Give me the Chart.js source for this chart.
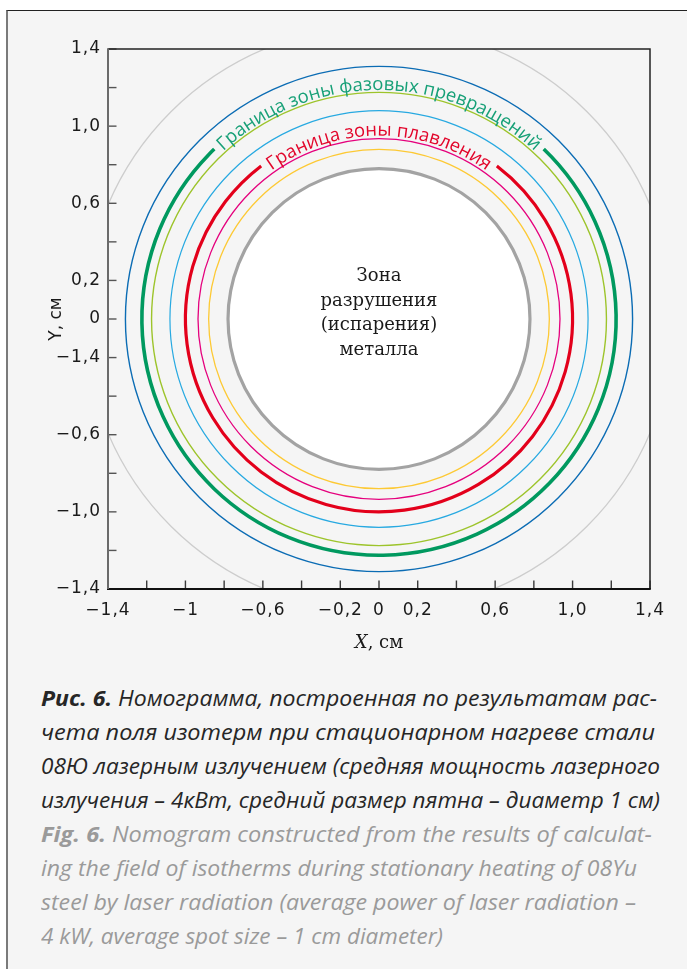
<!DOCTYPE html>
<html>
<head>
<meta charset="utf-8">
<script src="https://cdn.jsdelivr.net/npm/chart.js@4/dist/chart.umd.min.js"></script>
<style>
  html, body { margin: 0; padding: 0; background: #fff; }
  body { width: 687px; height: 969px; position: relative; overflow: hidden; }
  #panel { position: absolute; left: 6px; top: 10px; right: 0; bottom: 0; background: #f5f5f5;
           border-top: 1.5px solid #222; border-left: 2px solid #7a7a7a; }
  #wrap { position: absolute; left: 0; top: 0; width: 687px; height: 670px; }
  #caption { position: absolute; left: 41px; top: 680px; font-family: 'Open Sans', sans-serif;
             font-style: italic; font-size: 22px; }
  .ln { height: 34px; line-height: 34px; white-space: nowrap; }
  .ln .t { display: inline-block; transform-origin: 0 50%; }
  .ru { color: #262626; }
  .en { color: #9a9a9a; }
  b { font-weight: 700; }
</style>
</head>
<body>
<div id="panel"></div>
<div id="wrap"><canvas id="nomogram" width="687" height="670"></canvas></div>
<div id="caption">
  <div class="ln ru" data-w="616"><span class="t"><b>Рис. 6.</b> Номограмма, построенная по результатам рас-</span></div>
  <div class="ln ru" data-w="614"><span class="t">чета поля изотерм при стационарном нагреве стали</span></div>
  <div class="ln ru" data-w="619"><span class="t">08Ю лазерным излучением (средняя мощность лазерного</span></div>
  <div class="ln ru" data-w="619"><span class="t">излучения – 4кВт, средний размер пятна – диаметр 1 см)</span></div>
  <div class="ln en" data-w="611"><span class="t"><b>Fig. 6.</b> Nomogram constructed from the results of calculat-</span></div>
  <div class="ln en" data-w="596"><span class="t">ing the field of isotherms during stationary heating of 08Yu</span></div>
  <div class="ln en" data-w="595"><span class="t">steel by laser radiation (average power of laser radiation –</span></div>
  <div class="ln en" data-w="402"><span class="t">4 kW, average spot size – 1 cm diameter)</span></div>
</div>
<script>
// Axis ticks (cm) and their printed labels
const xTickValues = [-1.4, -1.2, -1.0, -0.8, -0.6, -0.4, -0.2, 0, 0.2, 0.4, 0.6, 0.8, 1.0, 1.2, 1.4];
const xTickLabels = ['−1,4', '', '−1', '', '−0,6', '', '−0,2', '0', '0,2', '', '0,6', '', '1,0', '', '1,4'];
const yTickValues = [1.4, 1.2, 1.0, 0.8, 0.6, 0.4, 0.2, 0, -0.2, -0.4, -0.6, -0.8, -1.0, -1.2, -1.4];
const yTickLabels = ['1,4', '', '1,0', '', '0,6', '', '0,2', '0', '−1,4', '', '−0,6', '', '−1,0', '', '−1,4'];

// Isotherm radii (cm), outermost first
const isothermRadii = [1.52, 1.31, 1.225, 1.175, 1.08, 1.0, 0.935, 0.88, 0.78];

// Boundary isotherms and their names
const boundaryNames = ['Граница зоны фазовых превращений', 'Граница зоны плавления'];
const boundaryRadii = [1.225, 1.0];

// Destruction (evaporation) zone
const coreRadius = 0.78;
const coreLabel = ['Зона', 'разрушения', '(испарения)', 'металла'];

// Styling
const isothermColors = ['#cdcdcd', '#0b6cb4', '#00995f', '#9dc42b', '#27a9e1', '#e3001b', '#e5007d', '#fdc934', '#a3a3a3'];
const isothermWidths = [1.3, 1.4, 3.6, 1.4, 1.2, 3.2, 1.3, 1.3, 3.2];
const boundaryGapDeg = [[46, 134], [52.5, 127.5]];
const boundaryTextRadius = [1.183, 0.947];
const boundaryTextColors = ['#17a077', '#e2062b'];
const boundaryFont = '18.5px "Open Sans"';

function arcText(ctx, text, cx, cy, R, centerDeg) {
  const chars = [...text];
  const widths = chars.map(ch => ctx.measureText(ch).width);
  const total = widths.reduce((s, w) => s + w, 0);
  let theta = centerDeg * Math.PI / 180 + total / (2 * R);
  chars.forEach((ch, i) => {
    const th = theta - widths[i] / (2 * R);
    ctx.save();
    ctx.translate(cx + R * Math.cos(th), cy - R * Math.sin(th));
    ctx.rotate(Math.PI / 2 - th);
    ctx.fillText(ch, 0, 0);
    ctx.restore();
    theta -= widths[i] / R;
  });
}

const isothermPlugin = {
  id: 'isotherms',
  beforeDraw(chart) {
    chart.ctx.letterSpacing = '1px';
  },
  afterDraw(chart) {
    const { ctx, chartArea: a, scales: { x, y } } = chart;
    ctx.save();
    ctx.letterSpacing = '0px';
    const cx = x.getPixelForValue(0), cy = y.getPixelForValue(0);
    const rx = r => x.getPixelForValue(r) - cx;
    const ry = r => cy - y.getPixelForValue(r);

    ctx.save();
    ctx.beginPath();
    ctx.rect(a.left, a.top, a.right - a.left, a.bottom - a.top);
    ctx.clip();

    // white core
    ctx.beginPath();
    ctx.ellipse(cx, cy, rx(coreRadius), ry(coreRadius), 0, 0, Math.PI * 2);
    ctx.fillStyle = '#ffffff';
    ctx.fill();

    // isotherms
    isothermRadii.forEach((r, i) => {
      const b = boundaryRadii.indexOf(r);
      let start = 0, end = Math.PI * 2;
      if (b >= 0) {
        start = -boundaryGapDeg[b][0] * Math.PI / 180;
        end = (360 - boundaryGapDeg[b][1]) * Math.PI / 180;
      }
      ctx.beginPath();
      ctx.ellipse(cx, cy, rx(r), ry(r), 0, start, end);
      ctx.strokeStyle = isothermColors[i];
      ctx.lineWidth = isothermWidths[i];
      ctx.stroke();
    });

    // boundary names along their arcs
    ctx.font = boundaryFont;
    ctx.textAlign = 'center';
    ctx.textBaseline = 'alphabetic';
    boundaryNames.forEach((name, i) => {
      ctx.fillStyle = boundaryTextColors[i];
      arcText(ctx, name, cx, cy, rx(boundaryTextRadius[i]), 90);
    });

    // core label
    ctx.font = '18px "DejaVu Serif"';
    ctx.fillStyle = '#1a1a1a';
    coreLabel.forEach((line, i) => {
      ctx.fillText(line, cx, cy - 38 + i * 24.5);
    });
    ctx.restore();

    // inward tick marks
    ctx.lineWidth = 1.4;
    ctx.strokeStyle = '#3a3a3a';
    x.ticks.forEach((t, i) => {
      const px = x.getPixelForTick(i);
      ctx.beginPath(); ctx.moveTo(px, a.bottom); ctx.lineTo(px, a.bottom - 8.5); ctx.stroke();
    });
    ctx.strokeStyle = '#555';
    y.ticks.forEach((t, i) => {
      const py = y.getPixelForTick(i);
      ctx.beginPath(); ctx.moveTo(a.left, py); ctx.lineTo(a.left + 8.5, py); ctx.stroke();
    });

    // frame
    ctx.lineWidth = 1.5;
    ctx.strokeStyle = '#222';
    ctx.beginPath(); ctx.moveTo(a.left, a.top); ctx.lineTo(a.right, a.top); ctx.lineTo(a.right, a.bottom); ctx.stroke();
    ctx.lineWidth = 2;
    ctx.strokeStyle = '#111';
    ctx.beginPath(); ctx.moveTo(a.left - 1, a.bottom); ctx.lineTo(a.right + 0.75, a.bottom); ctx.stroke();
    ctx.strokeStyle = '#6a6a6a';
    ctx.beginPath(); ctx.moveTo(a.left, a.top - 0.75); ctx.lineTo(a.left, a.bottom); ctx.stroke();

    // axis titles
    ctx.fillStyle = '#1a1a1a';
    ctx.textBaseline = 'alphabetic';
    ctx.textAlign = 'left';
    ctx.font = 'italic 18px "DejaVu Serif"';
    const xPart = 'X';
    const wX = ctx.measureText(xPart).width;
    ctx.font = '18px "DejaVu Serif"';
    const rest = ', см';
    const wR = ctx.measureText(rest).width;
    const x0 = cx - (wX + wR) / 2;
    ctx.font = 'italic 18px "DejaVu Serif"';
    ctx.fillText(xPart, x0, 648);
    ctx.font = '18px "DejaVu Serif"';
    ctx.fillText(rest, x0 + wX, 648);

    ctx.save();
    ctx.translate(61, cy);
    ctx.rotate(-Math.PI / 2);
    ctx.textAlign = 'center';
    ctx.font = '17px "DejaVu Sans"';
    ctx.fillText('Y, см', 0, 0);
    ctx.restore();

    ctx.restore();
  }
};

const tickFont = { family: 'DejaVu Sans', size: 17 };

new Chart(document.getElementById('nomogram'), {
  type: 'scatter',
  data: { datasets: [] },
  options: {
    responsive: false,
    devicePixelRatio: 1,
    animation: false,
    layout: { padding: { left: 0, top: 49, right: 37, bottom: 0 } },
    plugins: { legend: { display: false }, tooltip: { enabled: false } },
    scales: {
      x: {
        type: 'linear', min: -1.4, max: 1.4,
        grid: { display: false, drawTicks: false, tickLength: 0 },
        border: { display: false },
        afterBuildTicks: s => { s.ticks = xTickValues.map(v => ({ value: v })); },
        afterFit: s => { s.height = 81; },
        ticks: {
          autoSkip: false, maxRotation: 0, minRotation: 0, padding: 11,
          color: '#1a1a1a', font: tickFont,
          callback: (v, i) => xTickLabels[i]
        }
      },
      y: {
        type: 'linear', min: -1.4, max: 1.4,
        grid: { display: false, drawTicks: false, tickLength: 0 },
        border: { display: false },
        afterBuildTicks: s => { s.ticks = yTickValues.map(v => ({ value: v })); },
        afterFit: s => { s.width = 108; },
        ticks: {
          autoSkip: false, padding: 7,
          color: '#1a1a1a', font: tickFont,
          callback: (v, i) => yTickLabels[i]
        }
      }
    }
  },
  plugins: [isothermPlugin]
});

// fit each caption line to its column width
function fitCaption() {
  document.querySelectorAll('#caption .ln').forEach(l => {
    const s = l.querySelector('.t');
    s.style.transform = 'none';
    const w = s.getBoundingClientRect().width;
    s.style.transform = 'scaleX(' + (l.dataset.w / w) + ')';
  });
}
fitCaption();
if (document.fonts && document.fonts.ready) document.fonts.ready.then(fitCaption);
</script>
</body>
</html>
